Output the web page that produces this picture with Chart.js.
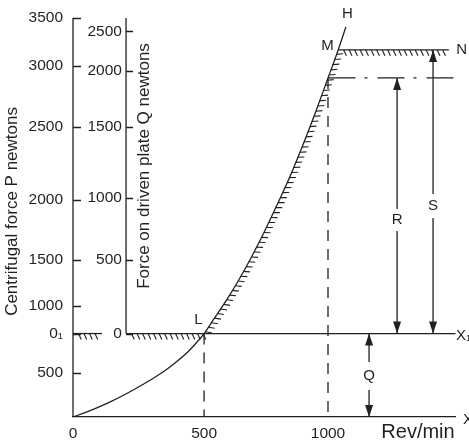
<!DOCTYPE html>
<html>
<head>
<meta charset="utf-8">
<script src="https://cdn.jsdelivr.net/npm/chart.js@4.4.1/dist/chart.umd.min.js"></script>
<style>
  html, body { margin: 0; padding: 0; background: #fff; }
  #chart { display: block; }
</style>
</head>
<body>
<canvas id="chart" width="469" height="443"></canvas>
<script>
/* ===================== DATA ===================== */
// curve O-L-M-H : centrifugal force P (N) against speed (rev/min)
const speed  = [0, 50, 100, 150, 200, 250, 300, 350, 400, 450, 500, 514, 550, 600, 650, 700, 750, 800, 850, 900, 950, 1000, 1040, 1070];
const forceP = [0, 40, 86, 137, 193, 254, 320, 390, 474, 570, 693, 732, 851, 1018, 1202, 1404, 1623, 1860, 2105, 2377, 2667, 2974, 3220, 3421];

// tick labels and where they sit on the drawing (P units / rev/min)
const pTickLabels = ["500", "0\u2081", "1000", "1500", "2000", "2500", "3000", "3500"];
const pTickAt     = [386, 732, 974, 1377, 1904, 2544, 3079, 3500];
const qTickLabels = ["0", "500", "1000", "1500", "2000", "2500"];
const qTickAt     = [732, 1377, 1925, 2544, 3035, 3382];
const xTickLabels = ["0", "500", "1000"];
const xTickAt     = [0, 514, 1000];

// key levels
const engageSpeed = 514;   // L
const levelX1 = 732;       // O1 - X1 line (Q = 0)
const levelMN = 3220;      // M - N
const levelR = 2974;       // dash-dot line
const qAxisAt = 208;       // Q axis position (rev/min)
const speedM = 1040;
const arrowR = 1271, arrowS = 1412, arrowQ = 1161;

/* ===================== STYLE ===================== */
const ink = "#231f20";
const family = "'Liberation Sans', Arial, Helvetica, sans-serif";
// axis line position (rev/min) and inner tick length for each force scale
const forceAxes = { y: { at: 0, tick: 8 }, q: { at: qAxisAt, tick: 7 } };
// label columns sit a little left of each axis line
const labelGap = 39;  // rev/min, ~10 px

/* ===================== NOTES ===================== */
const notes = [
  { text: "L", n: 492, p: 851 },
  { text: "M", n: 998, p: 3254 },
  { text: "H", n: 1076, p: 3535 },
  { text: "N", n: 1524, p: 3220 },
  { text: "X\u2081", n: 1502, p: 711, align: "left" },
  { text: "X", n: 1529, p: -26, align: "left" },
  { text: "R", n: arrowR, p: 1728, clear: [14, 22] },
  { text: "S", n: arrowS, p: 1851, clear: [14, 24] },
  { text: "Q", n: arrowQ, p: 360, clear: [14, 28] },
  { text: "Rev/min", n: 1353, p: -140, size: 20 },
  { text: "Centrifugal force P newtons", n: -237, p: 1803, size: 17, rotate: true },
  { text: "Force on driven plate Q newtons", n: 279, p: 2202, size: 17, rotate: true }
];

/* ===================== HELPERS ===================== */
function seg(points, extra) {
  return Object.assign({
    data: points.map(([x, y]) => ({ x, y })),
    borderColor: ink,
    borderWidth: 1.3,
    pointRadius: 0,
    fill: false,
    clip: false
  }, extra || {});
}

/* -------- tick marks on the inner side of the two force axes -------- */
const innerTickPlugin = {
  id: "innerTicks",
  beforeDatasetsDraw(chart) {
    const ctx = chart.ctx;
    ctx.save();
    ctx.strokeStyle = ink;
    ctx.lineWidth = 1.3;
    ctx.beginPath();
    Object.keys(forceAxes).forEach(id => {
      const scale = chart.scales[id];
      const ax = chart.scales.x.getPixelForValue(forceAxes[id].at);
      scale.ticks.forEach(t => {
        const py = Math.round(scale.getPixelForValue(t.value)) + 0.5;
        ctx.moveTo(ax, py);
        ctx.lineTo(ax + forceAxes[id].tick, py);
      });
    });
    ctx.stroke();
    ctx.restore();
  }
};

/* -------- hatching along a dataset -------- */
const hatchPlugin = {
  id: "hatch",
  afterDatasetsDraw(chart) {
    const ctx = chart.ctx;
    const xs = chart.scales.x;
    const step = 5.5, len = 6.5, ang = 65 * Math.PI / 180;
    chart.data.datasets.forEach((ds, i) => {
      if (!ds.hatch) return;
      const pts = chart.getDatasetMeta(i).data.map(p => ({ x: p.x, y: p.y }));
      const x0 = xs.getPixelForValue(ds.hatch.from);
      const x1 = xs.getPixelForValue(ds.hatch.to);
      ctx.save();
      ctx.strokeStyle = ink;
      ctx.lineWidth = 1.1;
      ctx.beginPath();
      let carry = 0;
      for (let k = 1; k < pts.length; k++) {
        const a = pts[k - 1], b = pts[k];
        const dx = b.x - a.x, dy = b.y - a.y;
        const len0 = Math.hypot(dx, dy);
        if (!len0) continue;
        const tx = dx / len0, ty = dy / len0;
        const hx = Math.cos(ang) * tx - Math.sin(ang) * ty;
        const hy = Math.sin(ang) * tx + Math.cos(ang) * ty;
        let s = carry;
        while (s < len0) {
          const px = a.x + tx * s, py = a.y + ty * s;
          if (px >= x0 && px <= x1) {
            ctx.moveTo(px, py);
            ctx.lineTo(px + hx * len, py + hy * len);
          }
          s += step;
        }
        carry = s - len0;
      }
      ctx.stroke();
      ctx.restore();
    });
  }
};

/* -------- arrow heads at both ends -------- */
const arrowPlugin = {
  id: "arrowHeads",
  afterDatasetsDraw(chart) {
    const ctx = chart.ctx;
    chart.data.datasets.forEach((ds, i) => {
      if (!ds.arrowHeads) return;
      const pts = chart.getDatasetMeta(i).data;
      const ends = [[pts[0], pts[1]], [pts[pts.length - 1], pts[pts.length - 2]]];
      ends.forEach(([tip, from]) => {
        const a = Math.atan2(tip.y - from.y, tip.x - from.x);
        ctx.save();
        ctx.fillStyle = ink;
        ctx.translate(tip.x, tip.y);
        ctx.rotate(a);
        ctx.beginPath();
        ctx.moveTo(0, 0);
        ctx.lineTo(-12, -4);
        ctx.lineTo(-12, 4);
        ctx.closePath();
        ctx.fill();
        ctx.restore();
      });
    });
  }
};

/* -------- letters and titles -------- */
const notePlugin = {
  id: "notes",
  afterDraw(chart) {
    const { ctx, scales: { x, y } } = chart;
    notes.forEach(nt => {
      const px = x.getPixelForValue(nt.n), py = y.getPixelForValue(nt.p);
      ctx.save();
      if (nt.clear) {
        ctx.fillStyle = "#fff";
        ctx.fillRect(px - nt.clear[0] / 2, py - nt.clear[1] / 2, nt.clear[0], nt.clear[1]);
      }
      ctx.font = (nt.size || 15) + "px " + family;
      ctx.fillStyle = ink;
      ctx.textAlign = nt.align || "center";
      ctx.textBaseline = "middle";
      ctx.translate(px, py);
      if (nt.rotate) ctx.rotate(-Math.PI / 2);
      ctx.fillText(nt.text, 0, 0);
      ctx.restore();
    });
  }
};

/* ===================== CHART ===================== */
Chart.defaults.font.family = family;
Chart.defaults.color = ink;

const tickFont = { size: 15.5 };

new Chart(document.getElementById("chart"), {
  type: "line",
  data: {
    datasets: [
      seg(speed.map((n, i) => [n, forceP[i]]), { cubicInterpolationMode: "monotone", hatch: { from: engageSpeed, to: speedM } }),
      seg([[0, 0], [0, 3500]]),
      seg([[0, levelX1], [114, levelX1]], { hatch: { from: 8, to: 100 } }),
      seg([[qAxisAt, levelX1], [1500, levelX1]], { hatch: { from: 222, to: engageSpeed } }),
      seg([[qAxisAt, levelX1], [qAxisAt, 3500]]),
      seg([[speedM, levelMN], [1474, levelMN]], { hatch: { from: speedM + 3, to: 1460 } }),
      seg([[1002, levelR], [1527, levelR]], { borderDash: [27, 9, 3, 10] }),
      seg([[engageSpeed, levelX1], [engageSpeed, 0]], { borderDash: [11, 8] }),
      seg([[1000, levelR], [1000, 0]], { borderDash: [11, 8] }),
      seg([[arrowR, levelR], [arrowR, levelX1]], { arrowHeads: true }),
      seg([[arrowS, levelMN], [arrowS, levelX1]], { arrowHeads: true }),
      seg([[arrowQ, levelX1], [arrowQ, 0]], { arrowHeads: true })
    ]
  },
  options: {
    responsive: false,
    animation: false,
    devicePixelRatio: 1,
    layout: { padding: { left: 73, right: 13.5, top: 18, bottom: 26 } },
    plugins: { legend: { display: false }, tooltip: { enabled: false } },
    scales: {
      x: {
        type: "linear",
        axis: "x",
        min: 0,
        max: 1500,
        position: { y: 0 },
        afterBuildTicks: s => { s.ticks = xTickAt.map(v => ({ value: v })); },
        ticks: { autoSkip: false, maxRotation: 0, padding: 7, font: tickFont, callback: (v, i) => xTickLabels[i] },
        grid: { display: false, drawTicks: false },
        border: { display: true, color: ink, width: 1.3 }
      },
      y: {
        type: "linear",
        axis: "y",
        min: 0,
        max: 3500,
        position: { x: forceAxes.y.at - labelGap },
        afterBuildTicks: s => { s.ticks = pTickAt.map(v => ({ value: v })); },
        ticks: { autoSkip: false, padding: 0, font: tickFont, callback: (v, i) => pTickLabels[i] },
        grid: { display: false, drawTicks: false },
        border: { display: false }
      },
      q: {
        type: "linear",
        axis: "y",
        min: 0,
        max: 3500,
        position: { x: forceAxes.q.at - 16 },
        afterBuildTicks: s => { s.ticks = qTickAt.map(v => ({ value: v })); },
        ticks: { autoSkip: false, padding: 0, font: tickFont, callback: (v, i) => qTickLabels[i] },
        grid: { display: false, drawTicks: false },
        border: { display: false }
      }
    }
  },
  plugins: [innerTickPlugin, hatchPlugin, arrowPlugin, notePlugin]
});
</script>
</body>
</html>
